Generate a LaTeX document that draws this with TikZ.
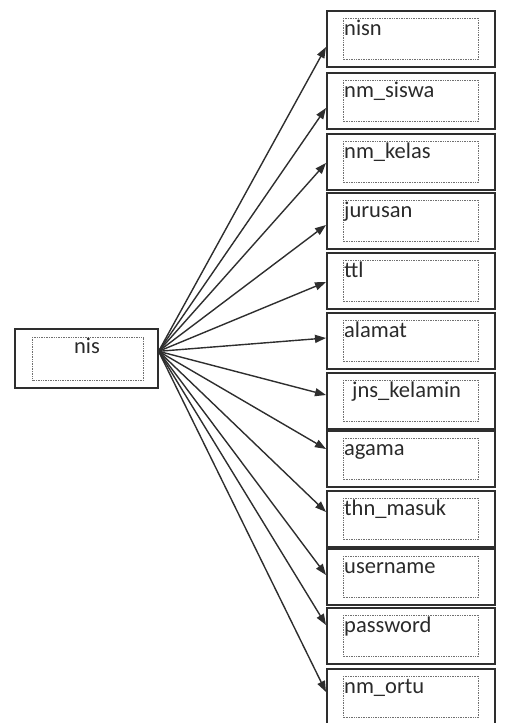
\documentclass[tikz,border=0pt]{standalone}
\usepackage{fontspec}
\setmainfont{Carlito}
\usetikzlibrary{arrows.meta}
\definecolor{boxline}{HTML}{2E2E2E}
\definecolor{dotline}{HTML}{707070}
\definecolor{txt}{HTML}{2A2A2A}
\begin{document}
\begin{tikzpicture}[x=1pt,y=-1pt,
  outerbox/.style={draw=boxline,line width=1.6pt,minimum width=168pt,minimum height=56pt,inner sep=0pt,anchor=north west},
  innerbox/.style={draw=dotline,line width=0.9pt,dash pattern=on 1pt off 0.7pt},
  lbl/.style={font=\fontsize{22.5}{24}\selectfont,text=txt,anchor=base west,inner sep=0pt},
  conn/.style={draw=boxline,line width=1.4pt,-{Triangle[length=11pt,width=8pt]}}]
\useasboundingbox (0,0) rectangle (512,723);
% source box
\node[outerbox,minimum width=143pt,minimum height=59pt] (nis) at (14,328) {};
\draw[innerbox] ([shift={(18,9)}]nis.north west) rectangle ([shift={(-15,-8)}]nis.south east);
\node[lbl,anchor=base] (nislbl) at (87,353) {nis};
% target boxes
\foreach \i/\top/\tip/\tx/\name in {
  1/10/37/344/nisn,
  2/72/36/344/nm\_siswa,
  3/133/30/344/nm\_kelas,
  4/192/33/344/jurusan,
  5/252/30/344/ttl,
  6/312/26/344/alamat,
  7/372/23/352/jns\_kelamin,
  8/430/19/344/agama,
  9/490/22/344/thn\_masuk,
  10/548/27/344/username,
  11/607/18/344/password,
  12/668/24/344/nm\_ortu}{
  \node[outerbox] (b\i) at (326,\top) {};
  \draw[innerbox] ([shift={(17,8)}]b\i.north west) rectangle ([shift={(-17,-8)}]b\i.south east);
  \node[lbl] (l\i) at (\tx,\top+25) {\name};
  \draw[conn] ([yshift=7pt]nis.east) -- ([yshift=-\tip pt]b\i.north west);
}
\end{tikzpicture}
\end{document}
